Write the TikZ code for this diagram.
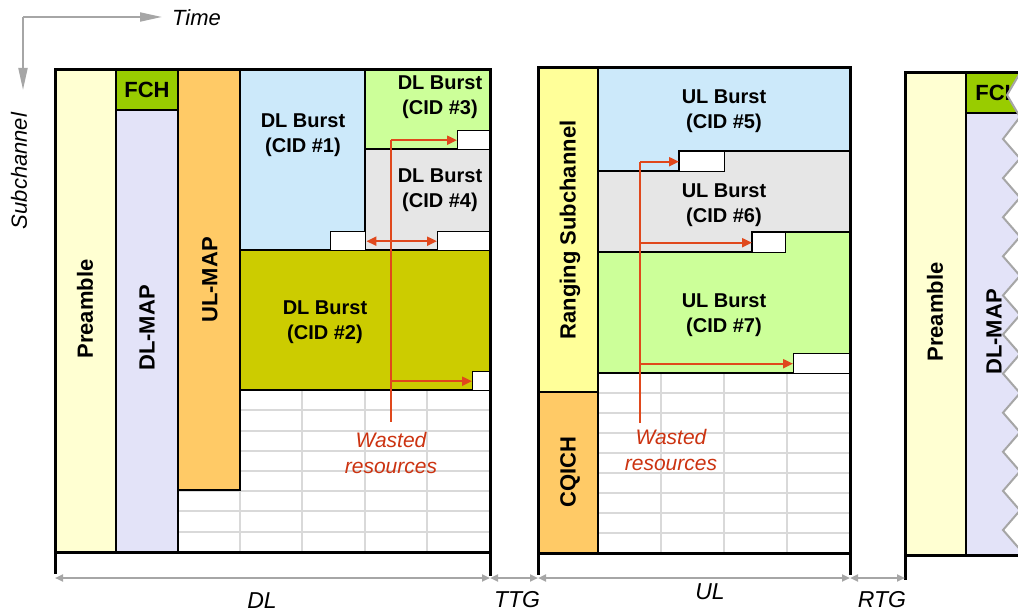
\documentclass[tikz,border=0pt]{standalone}
\usepackage{fontspec}
\setmainfont{Liberation Sans}
\usetikzlibrary{arrows.meta}
\definecolor{preY}{HTML}{FFFFD2}
\definecolor{fchG}{HTML}{99CC00}
\definecolor{mapL}{HTML}{E3E3F8}
\definecolor{mapO}{HTML}{FFCA66}
\definecolor{bBlue}{HTML}{CCE9FA}
\definecolor{bGreen}{HTML}{CCFF99}
\definecolor{bGray}{HTML}{E6E6E6}
\definecolor{bOlive}{HTML}{CCCC00}
\definecolor{rangY}{HTML}{FFFF99}
\definecolor{wRed}{HTML}{E0481C}
\definecolor{wTxt}{HTML}{CC3311}
\definecolor{gridG}{HTML}{D9D9D9}
\definecolor{axG}{HTML}{A6A6A6}

\begin{document}
\begin{tikzpicture}[x=1pt,y=-1pt,
	blk/.style={draw=black,line width=1.4pt},
	frame/.style={draw=black,line width=3pt},
	grid/.style={draw=gridG,line width=1.5pt},
	gap/.style={draw=black,fill=white,line width=1.4pt,rectangle,inner sep=0pt,anchor=north west},
	lbl/.style={font=\bfseries\fontsize{20}{25}\selectfont,align=center,inner sep=0pt},
	vlbl/.style={font=\bfseries\fontsize{22}{26}\selectfont,rotate=90,inner sep=0pt},
	waste/.style={draw=wRed,line width=2pt},
	wtxt/.style={text=wTxt,font=\itshape\fontsize{21}{26}\selectfont,align=center,inner sep=0pt},
	axis/.style={draw=axG,line width=2pt},
	span/.style={draw=axG,line width=2pt,{Triangle[length=8pt,width=7pt]}-{Triangle[length=8pt,width=7pt]}},
	atxt/.style={font=\itshape\fontsize{23}{26}\selectfont,inner sep=0pt}]
	\useasboundingbox (0,0) rectangle (1018,615);
	\clip (0,0) rectangle (1018,615);
	% axes
	\coordinate (o)at(23,17);
	\coordinate (tx)at(162,17);
	\coordinate (sy)at(23,90);
	\draw[axis,-{Triangle[length=22pt,width=9pt]}] (o) -- (tx);
	\draw[axis,-{Triangle[length=22pt,width=9pt]}] (o) -- (sy);
	\node[atxt,font=\itshape\fontsize{22}{26}\selectfont,anchor=west] (time)at(172,18) {Time};
	\node[atxt,font=\itshape\fontsize{22}{26}\selectfont,rotate=90] (sub)at(19,171) {Subchannel};
	% DL subframe
	\fill[white] (178,390) rectangle (490,552);
	\foreach \y in {410,431,451,471,491,511,532} \draw[grid] (178,\y) -- (490,\y);
	\foreach \x in {240,302,365,427} \draw[grid] (\x,390) -- (\x,552);
	\filldraw[blk,fill=preY] (55,70) rectangle (116,552);
	\filldraw[blk,fill=fchG] (116,70) rectangle (178,110);
	\filldraw[blk,fill=mapL] (116,110) rectangle (178,552);
	\filldraw[blk,fill=mapO] (178,70) rectangle (240,490);
	\filldraw[blk,fill=bBlue] (240,70) rectangle (365,250);
	\filldraw[blk,fill=bGreen] (365,70) rectangle (490,149);
	\filldraw[blk,fill=bGray] (365,149) rectangle (490,250);
	\filldraw[blk,fill=bOlive] (240,250) rectangle (490,390);
	\node[vlbl] (pre)at(85,309) {Preamble};
	\node[lbl,font=\bfseries\fontsize{22}{26}\selectfont] (fch)at(147,90) {FCH};
	\node[vlbl] (dlmap)at(147,328) {DL-MAP};
	\node[vlbl] (ulmap)at(210,280) {UL-MAP};
	\node[lbl] (b1)at(303,135) {DL Burst\\(CID \#1)};
	\node[lbl] (b3)at(440,97) {DL Burst\\(CID \#3)};
	\node[lbl] (b4)at(440,190) {DL Burst\\(CID \#4)};
	\node[lbl] (b2)at(325,322) {DL Burst\\(CID \#2)};
	\node[gap,minimum width=35pt,minimum height=19pt] (g1)at(330,231) {};
	\node[gap,minimum width=32pt,minimum height=19pt] (g3)at(457,130) {};
	\node[gap,minimum width=52pt,minimum height=19pt] (g4)at(437,231) {};
	\node[gap,minimum width=17pt,minimum height=19pt] (g2)at(472,371) {};
	\draw[frame] (55,70) rectangle (490,552);
	\draw[frame] (55,552) -- (55,574);
	\draw[frame] (490,552) -- (490,576);
	% wasted resources in DL
	\coordinate (dlv)at(391,139);
	\coordinate (dlb)at(391,422);
	\draw[waste] (dlv |- g3.west) -- (dlb);
	\draw[waste,->,>={Triangle[length=10pt,width=9pt]}] (dlv |- g3.west) -- (g3.west);
	\draw[waste,<->,>={Triangle[length=10pt,width=9pt]}] (g1.east) -- (g4.west);
	\draw[waste,->,>={Triangle[length=10pt,width=9pt]}] (dlv |- g2.west) -- (g2.west);
	\node[wtxt] (wdl)at(391,453) {Wasted\\resources};
	% UL subframe
	\fill[white] (598,373) rectangle (850,553);
	\foreach \y in {393,413,433,453,473,493,513,533} \draw[grid] (598,\y) -- (850,\y);
	\foreach \x in {661,724,787} \draw[grid] (\x,373) -- (\x,553);
	\filldraw[blk,fill=rangY] (538,68) rectangle (598,392);
	\filldraw[blk,fill=mapO] (538,392) rectangle (598,553);
	\filldraw[blk,fill=bBlue] (598,68) -- (850,68) -- (850,151) -- (679,151) -- (679,171) -- (598,171) -- cycle;
	\filldraw[blk,fill=bGray] (598,171) -- (724,171) -- (724,151) -- (850,151) -- (850,232) -- (752,232) -- (752,252) -- (598,252) -- cycle;
	\filldraw[blk,fill=bGreen] (598,252) -- (785,252) -- (785,232) -- (850,232) -- (850,373) -- (598,373) -- cycle;
	\node[vlbl] (rng)at(570,230) {Ranging Subchannel};
	\node[vlbl] (cqi)at(570,472) {CQICH};
	\node[lbl] (b5)at(724,111) {UL Burst\\(CID \#5)};
	\node[lbl] (b6)at(724,205) {UL Burst\\(CID \#6)};
	\node[lbl] (b7)at(724,315) {UL Burst\\(CID \#7)};
	\node[gap,minimum width=45pt,minimum height=20pt] (g5)at(679,151) {};
	\node[gap,minimum width=33pt,minimum height=20pt] (g6)at(752,232) {};
	\node[gap,minimum width=57pt,minimum height=20pt] (g7)at(793,353) {};
	\draw[frame] (538,68) rectangle (850,553);
	\draw[frame] (538,553) -- (538,575);
	\draw[frame] (850,553) -- (850,575);
	% wasted resources in UL
	\coordinate (ulv)at(640,161);
	\coordinate (ulb)at(640,423);
	\draw[waste] (ulv |- g5.west) -- (ulb);
	\draw[waste,->,>={Triangle[length=10pt,width=9pt]}] (ulv |- g5.west) -- (g5.west);
	\draw[waste,->,>={Triangle[length=10pt,width=9pt]}] (ulv |- g6.west) -- (g6.west);
	\draw[waste,->,>={Triangle[length=10pt,width=9pt]}] (ulv |- g7.west) -- (g7.west);
	\node[wtxt] (wul)at(671,450) {Wasted\\resources};
	% next DL subframe, cut off
	\filldraw[blk,fill=preY] (905,73) rectangle (966,555);
	\filldraw[blk,fill=fchG] (966,73) rectangle (1030,113);
	\filldraw[blk,fill=mapL] (966,113) rectangle (1030,555);
	\node[vlbl] (pre2)at(935,312) {Preamble};
	\node[lbl,font=\bfseries\fontsize{22}{26}\selectfont] (fch2)at(998,93) {FCH};
	\node[vlbl] (dlmap2)at(994,332) {DL-MAP};
	\draw[draw=axG,line width=2pt,fill=white] (1020,73) -- (1007,95) -- (1020,117)
		\foreach \k in {0,...,10} { -- (1003,{139+39.1*\k}) -- (1020,{158.5+39.1*\k}) }
		-- (1020,555) -- (1030,555) -- (1030,73) -- cycle;
	\draw[frame] (1018,73) -- (905,73) -- (905,580);
	\draw[frame] (905,555) -- (1018,555);
	% time spans
	\coordinate (t0)at(55,578);
	\coordinate (t1)at(490,578);
	\coordinate (t2)at(538,578);
	\coordinate (t3)at(850,578);
	\coordinate (t4)at(905,578);
	\draw[span] (t0) -- (t1);
	\draw[span] (t1) -- (t2);
	\draw[span] (t2) -- (t3);
	\draw[span] (t3) -- (t4);
	\node[atxt] (dl)at(262,601) {DL};
	\node[atxt] (ttg)at(517,600) {TTG};
	\node[atxt] (ul)at(710,592) {UL};
	\node[atxt] (rtg)at(882,600) {RTG};
\end{tikzpicture}
\end{document}
